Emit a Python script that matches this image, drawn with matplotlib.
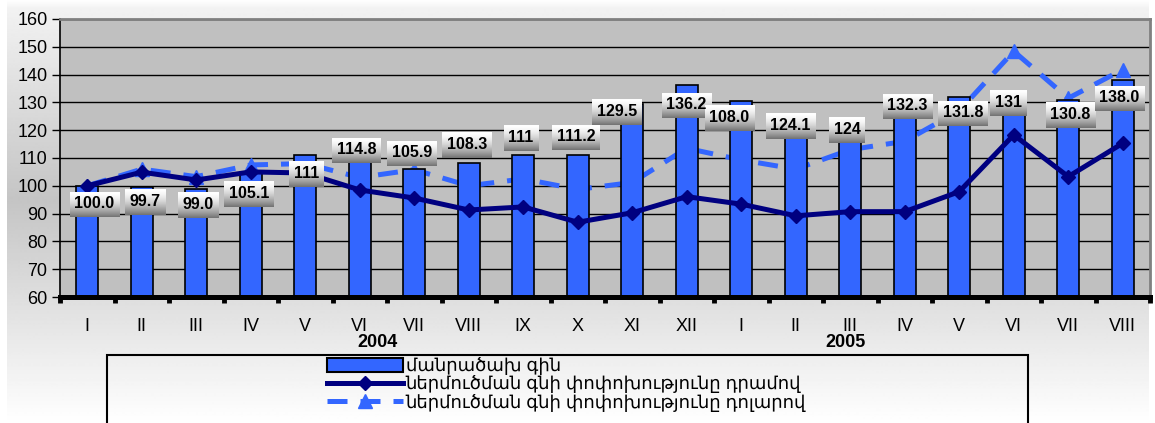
import matplotlib
matplotlib.use("Agg")
import matplotlib.pyplot as plt
from matplotlib.lines import Line2D
from matplotlib.patches import Patch, Rectangle
import numpy as np

plt.rcParams["font.family"] = ["Liberation Sans", "DejaVu Sans"]

# ── data ─────────────────────────────────────────────────────────────────────
months = ["I", "II", "III", "IV", "V", "VI", "VII", "VIII", "IX", "X", "XI", "XII",
          "I", "II", "III", "IV", "V", "VI", "VII", "VIII"]
years = ["2004", "2005"]

retail_price = [100.0, 99.7, 99.0, 105.1, 111.0, 114.8, 105.9, 108.3, 111.0, 111.2,
                129.5, 136.2, 130.5, 124.1, 124.0, 132.3, 131.8, 131.0, 130.8, 138.0]
bar_labels = ["100.0", "99.7", "99.0", "105.1", "111", "114.8", "105.9", "108.3", "111",
              "111.2", "129.5", "136.2", "108.0", "124.1", "124", "132.3", "131.8",
              "131", "130.8", "138.0"]
import_dram = [100.0, 104.9, 102.1, 105.0, 104.6, 98.5, 95.6, 91.3, 92.4, 86.9,
               90.3, 96.1, 93.4, 89.2, 90.7, 90.7, 97.9, 118.3, 103.3, 115.3]
import_usd = [100.0, 106.0, 103.3, 107.5, 108.0, 103.0, 105.8, 100.0, 102.5, 98.7,
              101.2, 113.5, 109.3, 106.0, 113.0, 116.0, 127.0, 148.4, 131.5, 141.8]

legend_labels = ["մանրածախ գին",
                 "ներմուծման գնի փոփոխությունը դրամով",
                 "ներմուծման գնի փոփոխությունը դոլարով"]

# layout of the (hand-placed) value boxes
label_y = [93.8, 94.5, 93.4, 97.4, 104.6, 112.9, 112.0, 115.0, 117.5, 117.6,
           126.6, 129.4, 124.4, 121.7, 120.4, 128.9, 126.5, 130.0, 125.5, 131.6]
label_dx = [0.13, 0.06, 0.04, -0.03, 0.02, -0.06, -0.04, -0.03, -0.04, -0.03,
            -0.28, -0.01, -0.22, -0.1, -0.06, 0.05, 0.07, -0.1, 0.04, -0.06]
year_x = [5.33, 13.92]

BLUE = "#3366FF"
NAVY = "#000080"

W, H = 1155, 423
fig = plt.figure(figsize=(W / 100, H / 100), dpi=100)
fig.patch.set_facecolor("white")

# ── gradient background ──────────────────────────────────────────────────────
bg = fig.add_axes([0, 0, 1, 1], zorder=-10)
bg.set_xlim(0, W)
bg.set_ylim(H, 0)
bg.axis("off")
ys = np.linspace(0, H, H + 1)
shade = np.interp(ys, [0, 8, 200, H], [1.0, 0.95, 0.77, 1.0])
bg.imshow(np.repeat(shade[:, None], 2, axis=1), cmap="gray", vmin=0, vmax=1,
          extent=[7, 1149, H, 0], aspect="auto", interpolation="bilinear")

# ── main axes ────────────────────────────────────────────────────────────────
ax = fig.add_axes([60 / W, 1 - 297 / H, 1090 / W, 278 / H])
ax.set_facecolor("#C0C0C0")
x = np.arange(len(months))

ax.bar(x, retail_price, width=0.4, color=BLUE, edgecolor="black", linewidth=1.2, zorder=2)
ax.plot(x, import_usd, color=BLUE, linewidth=3.6, linestyle=(0, (4, 2.6)),
        marker="^", markersize=10, zorder=1.5)
ax.plot(x, import_dram, color=NAVY, linewidth=3.6, marker="D", markersize=7, zorder=3)

ax.set_xlim(-0.5, len(months) - 0.5)
ax.set_ylim(60, 160)
ax.set_autoscale_on(False)
ax.set_yticks(np.arange(60, 161, 10))
ax.yaxis.grid(True, color="black", linewidth=1.0)
ax.set_axisbelow(True)

ax.set_xticks(x)
ax.set_xticklabels(months)
ax.set_xticks(np.arange(-0.5, len(months)), minor=True)
ax.tick_params(axis="x", which="major", length=0, pad=15, labelsize=13)
ax.tick_params(axis="x", which="minor", length=4, width=3.5, direction="out", color="black")
ax.tick_params(axis="y", length=6, width=1, pad=3, labelsize=13)

ax.spines["bottom"].set_linewidth(3.6)
ax.spines["left"].set_linewidth(1.2)
ax.spines["top"].set_color("#808080")
ax.spines["top"].set_linewidth(2)
ax.spines["right"].set_color("#808080")
ax.spines["right"].set_linewidth(2)

for yr, xp in zip(years, year_x):
    ax.text(xp, -0.165, yr, transform=ax.get_xaxis_transform(), ha="center", va="center",
            fontsize=13, fontweight="bold")

# ── value boxes with gradient fill ───────────────────────────────────────────
texts = []
for i, lab in enumerate(bar_labels):
    t = ax.text(x[i] + label_dx[i], label_y[i], lab, ha="center", va="center",
                fontsize=11.5, fontweight="bold", zorder=6)
    texts.append(t)

fig.canvas.draw()
renderer = fig.canvas.get_renderer()
inv = ax.transData.inverted()
tgrad = np.linspace(0, 1, 64)
grad = 1 - 0.55 * tgrad ** 1.6
for t in texts:
    bb = t.get_window_extent(renderer)
    cy = (bb.y0 + bb.y1) / 2 - 1
    x0, y0 = inv.transform((bb.x0 - 4.5, cy - 12.5))
    x1, y1 = inv.transform((bb.x1 + 4.5, cy + 12.5))
    ax.imshow(grad[:, None], cmap="gray", vmin=0, vmax=1, extent=[x0, x1, y0, y1],
              aspect="auto", zorder=5, interpolation="bilinear")

# ── legend ───────────────────────────────────────────────────────────────────
fig.patches.append(Rectangle((107 / W, -0.1), 921 / W, 0.1 + 1 - 355 / H,
                             transform=fig.transFigure, fill=False,
                             edgecolor="black", linewidth=1.5))
handles = [
    Patch(facecolor=BLUE, edgecolor="black", linewidth=1.5),
    Line2D([], [], color=NAVY, linewidth=3.6, marker="D", markersize=7),
    Line2D([], [], color=BLUE, linewidth=3.6, linestyle=(0, (4, 2.6)), marker="^", markersize=10),
]
fig.legend(handles, legend_labels, loc="upper left", bbox_to_anchor=(327 / W, 1 - 357 / H),
           frameon=False, fontsize=13, handlelength=4.2, handleheight=0.85,
           handletextpad=0.15, labelspacing=0.02, borderpad=0, borderaxespad=0)

fig.savefig("out.png", dpi=100)
